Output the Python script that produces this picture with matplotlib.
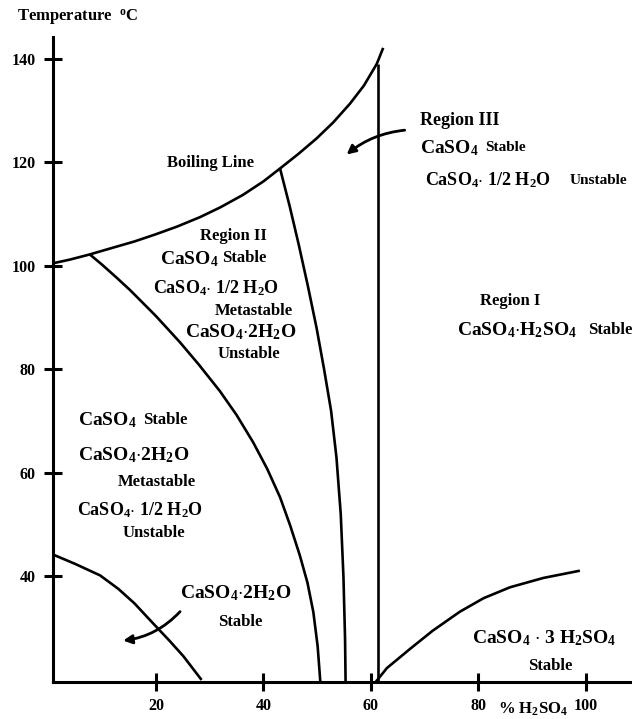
import numpy as np
import matplotlib
matplotlib.use("Agg")
import matplotlib.pyplot as plt

# phase boundaries, % H2SO4 vs temperature (deg C)
boil_x = [0.9, 4.0, 7.7, 12.0, 16.0, 20.0, 24.0, 28.2, 32.0, 36.2, 40.0,
          43.1, 46.5, 49.9, 53.0, 56.1, 58.7, 61.1, 62.3]
boil_y = [100.5, 101.2, 102.2, 103.5, 104.7, 106.1, 107.6, 109.4, 111.3,
          113.7, 116.3, 118.8, 121.6, 124.6, 127.7, 131.3, 134.8, 139.0, 142.1]

hemi_x = [7.7, 10.0, 12.7, 15.2, 20.0, 24.5, 28.0, 31.9, 35.0, 38.1, 40.7,
          43.1, 45.0, 46.8, 48.2, 49.3, 50.1, 50.6]
hemi_y = [102.2, 100.2, 97.7, 95.3, 90.3, 85.2, 80.9, 75.8, 71.2, 65.9, 60.8,
          55.3, 49.8, 44.0, 38.8, 33.1, 26.5, 19.6]

anhy_x = [43.1, 44.9, 46.6, 48.3, 49.9, 51.3, 52.6, 53.6, 54.4, 54.9, 55.2,
          55.3]
anhy_y = [118.8, 111.5, 104.0, 96.0, 88.0, 80.0, 72.0, 63.0, 52.0, 40.0, 28.0,
          19.6]

acid_x = [61.3, 61.3]
acid_y = [19.6, 139.0]

tri_x = [60.9, 63.0, 67.3, 71.5, 76.6, 81.0, 85.9, 92.1, 98.9]
tri_y = [19.6, 22.3, 26.0, 29.5, 33.2, 35.8, 37.9, 39.7, 41.1]

gyp_x = [0.9, 5.0, 9.6, 13.0, 16.0, 19.5, 22.5, 25.1, 28.5]
gyp_y = [44.2, 42.4, 40.2, 37.6, 34.8, 30.9, 27.6, 24.6, 20.0]

xticks = [20, 40, 60, 80, 100]
yticks = [40, 60, 80, 100, 120, 140]

plt.rcParams['font.family'] = 'Liberation Serif'
plt.rcParams['font.weight'] = 'bold'
plt.rcParams['mathtext.fontset'] = 'custom'
plt.rcParams['mathtext.rm'] = 'Liberation Serif:bold'
plt.rcParams['mathtext.it'] = 'Liberation Serif:bold'
plt.rcParams['mathtext.bf'] = 'Liberation Serif:bold'

W, H = 632, 719
fig = plt.figure(figsize=(W / 100, H / 100), dpi=100)
ax = fig.add_axes([53 / W, 1 - 682 / H, (W - 53) / W, (682 - 37) / H])

lw = 1.9
for xs, ys in [(boil_x, boil_y), (hemi_x, hemi_y), (anhy_x, anhy_y),
               (acid_x, acid_y), (tri_x, tri_y), (gyp_x, gyp_y)]:
    ax.plot(xs, ys, color='black', lw=lw, solid_capstyle='butt',
            solid_joinstyle='round')

ax.set_xlim(0.85, 108.6)
ax.set_ylim(19.6, 144.2)
ax.spines['top'].set_visible(False)
ax.spines['right'].set_visible(False)
ax.spines['left'].set_linewidth(2.2)
ax.spines['bottom'].set_linewidth(2.2)
ax.set_xticks(xticks)
ax.set_yticks(yticks)
ax.tick_params(direction='inout', length=13, width=2.2, labelsize=11.5, pad=5)
ax.tick_params(axis='y', pad=6)
for t in ax.get_xticklabels() + ax.get_yticklabels():
    t.set_fontweight('bold')

# arrows pointing across the boundaries
ax.annotate('', xy=(55.5, 121.5), xytext=(66.3, 126.2),
            arrowprops=dict(arrowstyle='-|>', lw=2, color='black',
                            mutation_scale=13, shrinkA=0, shrinkB=0,
                            connectionstyle='arc3,rad=0.15'))
ax.annotate('', xy=(13.9, 27.6), xytext=(24.5, 33.2),
            arrowprops=dict(arrowstyle='-|>', lw=2, color='black',
                            mutation_scale=13, shrinkA=0, shrinkB=0,
                            connectionstyle='arc3,rad=-0.18'))


def label(px, py, s, size, ha='left'):
    fig.text(px / W, 1 - py / H, s, fontsize=size, ha=ha, va='baseline',
             fontweight='bold')


label(17, 22, r'Temperature  $^{o}$C', 12)
label(498, 714, r'% H$_2$SO$_4$', 12)
label(167, 167, 'Boiling Line', 12)

# Region III
label(420, 125, 'Region III', 13)
label(420, 153, r'CaSO$_4$', 14)
label(485, 151, 'Stable', 11)
label(425, 185, r'CaSO$_4$$\cdot$ 1/2 H$_2$O', 13)
label(570, 184, 'Unstable', 11)

# Region II
label(200, 240, 'Region II', 12)
label(160, 264, r'CaSO$_4$', 14)
label(222, 262, 'Stable', 12)
label(153, 293, r'CaSO$_4$$\cdot$ 1/2 H$_2$O', 13)
label(215, 315, 'Metastable', 12)
label(185, 337, r'CaSO$_4$$\cdot$2H$_2$O', 14)
label(218, 358, 'Unstable', 12)

# gypsum-metastable field
label(78, 425, r'CaSO$_4$', 14)
label(143, 424, 'Stable', 12)
label(78, 460, r'CaSO$_4$$\cdot$2H$_2$O', 14)
label(118, 486, 'Metastable', 12)
label(77, 515, r'CaSO$_4$$\cdot$ 1/2 H$_2$O', 13)
label(123, 537, 'Unstable', 12)

# gypsum field
label(180, 598, r'CaSO$_4$$\cdot$2H$_2$O', 14)
label(240, 626, 'Stable', 12, ha='center')

# Region I
label(480, 305, 'Region I', 12)
label(457, 335, r'CaSO$_4$$\cdot$H$_2$SO$_4$', 14)
label(588, 334, 'Stable', 12)

# trisulfate field
label(472, 643, r'CaSO$_4$ $\cdot$ 3 H$_2$SO$_4$', 14)
label(550, 670, 'Stable', 12, ha='center')

fig.savefig('out.png', dpi=100)
